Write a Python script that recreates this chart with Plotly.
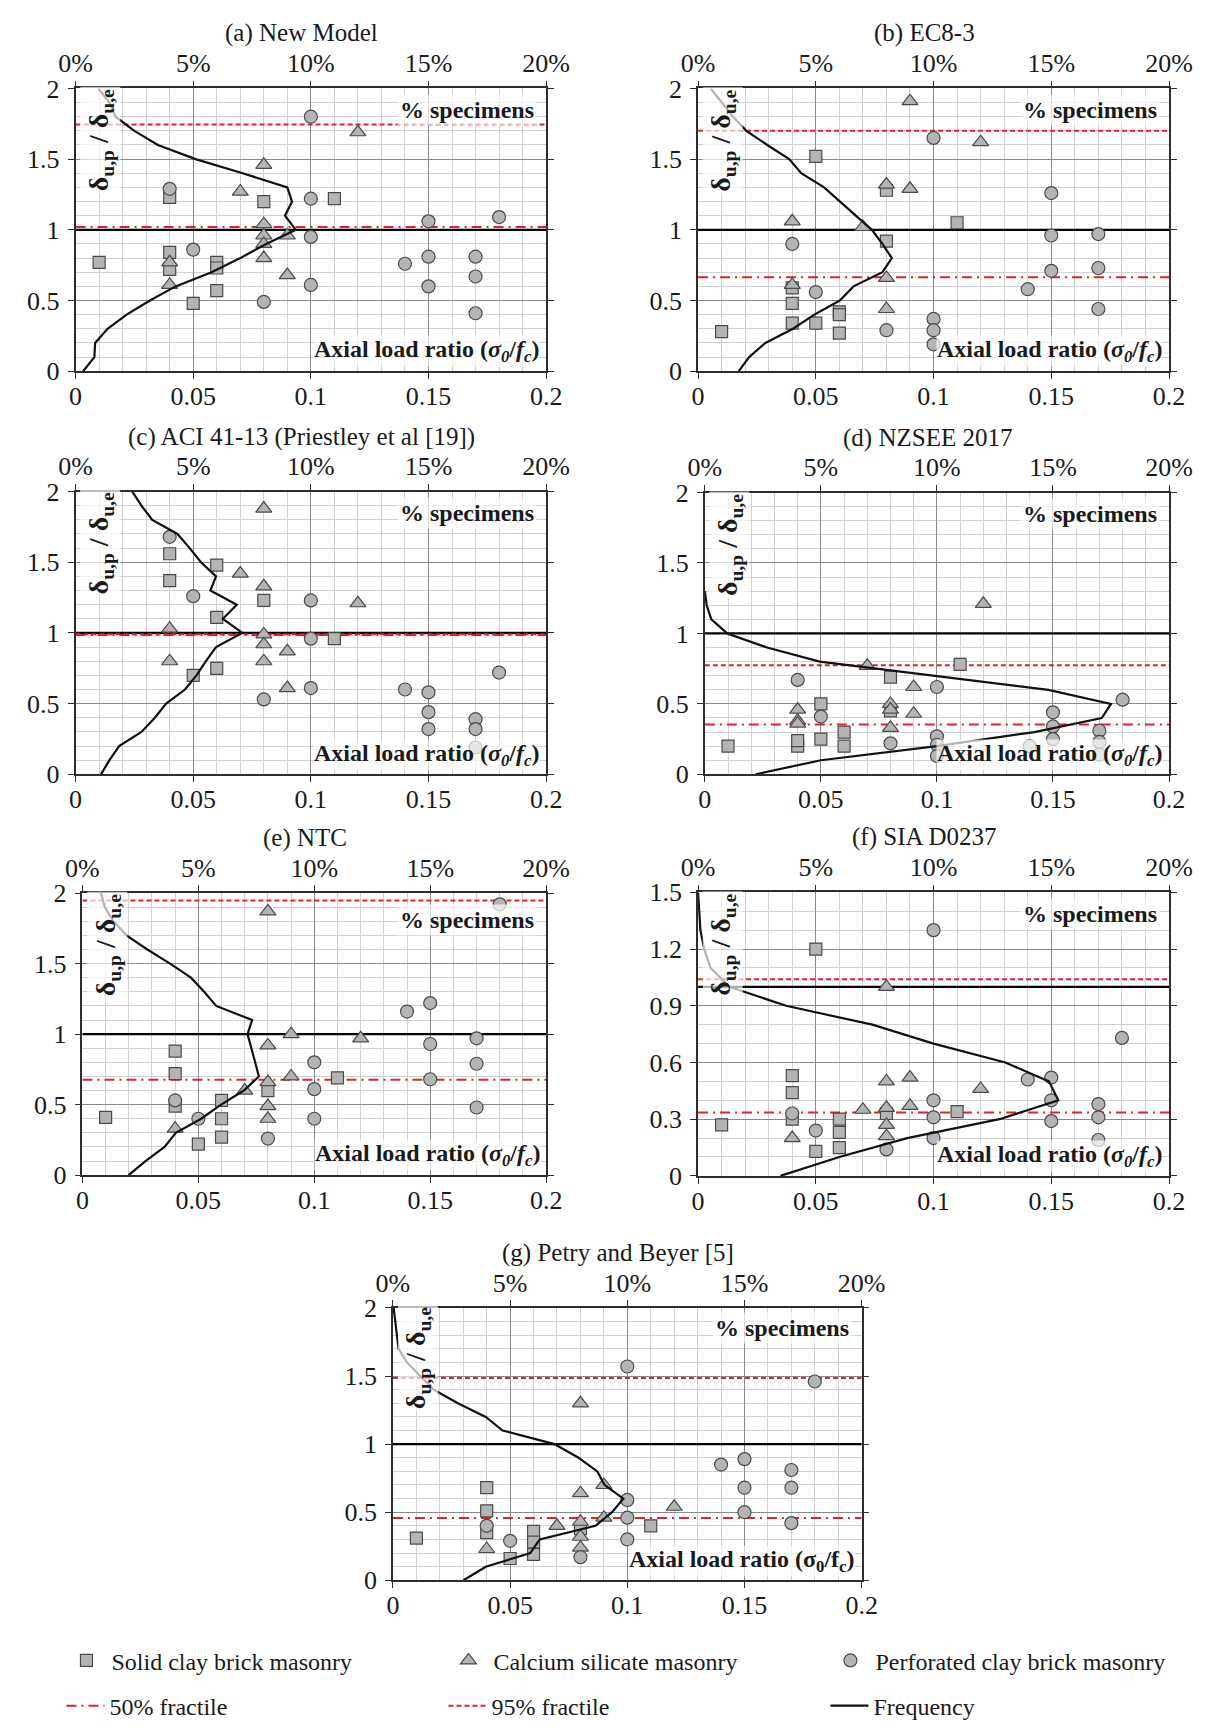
import plotly.graph_objects as go

W, H = 1222, 1731
SERIF = "Liberation Serif, Times New Roman, serif"

# ratio levels at which the frequency profiles are evaluated
LEVELS_2 = [0.0, 0.1, 0.2, 0.3, 0.4, 0.5, 0.6, 0.7, 0.8, 0.9, 1.0,
            1.1, 1.2, 1.3, 1.4, 1.5, 1.6, 1.7, 1.8, 1.9, 2.0]
LEVELS_D = [0.0, 0.1, 0.2, 0.3, 0.4, 0.5, 0.6, 0.7, 0.8, 0.9, 1.0, 1.1, 1.2, 1.3]
LEVELS_F = [0.0, 0.1, 0.2, 0.3, 0.4, 0.5, 0.6, 0.7, 0.8, 0.9, 1.0,
            1.1, 1.2, 1.3, 1.4, 1.5]
REF_RATIO = 1.0
X_LIMITS = [0.0, 0.2]

TITLES = ["(a) New Model", "(b) EC8-3", "(c) ACI 41-13 (Priestley et al [19])",
          "(d) NZSEE 2017", "(e) NTC", "(f) SIA D0237", "(g) Petry and Beyer [5]"]

# ---------------- (a) New Model
A_SOLID_X = [0.01, 0.04, 0.04, 0.04, 0.05, 0.06, 0.06, 0.06, 0.08, 0.11]
A_SOLID_Y = [0.77, 1.23, 0.84, 0.72, 0.48, 0.77, 0.73, 0.57, 1.20, 1.22]
A_CASI_X = [0.04, 0.04, 0.07, 0.08, 0.08, 0.08, 0.08, 0.08, 0.09, 0.09, 0.12]
A_CASI_Y = [0.77, 0.61, 1.27, 1.46, 1.04, 0.96, 0.90, 0.80, 0.96, 0.68, 1.69]
A_PERF_X = [0.04, 0.05, 0.08, 0.10, 0.10, 0.10, 0.10, 0.14, 0.15, 0.15, 0.15, 0.17, 0.17, 0.17, 0.18]
A_PERF_Y = [1.29, 0.86, 0.49, 1.80, 1.22, 0.95, 0.61, 0.76, 1.06, 0.81, 0.60, 0.81, 0.67, 0.41, 1.09]
A_FREQ = [0.32, 0.80, 0.83, 1.36, 2.17, 3.16, 4.25, 5.78, 7.00, 8.10, 9.36,
          8.90, 9.20, 9.00, 7.10, 5.10, 3.50, 2.50, 1.70, 1.44, 0.96]
A_P50 = 1.02
A_P95 = 1.745

# ---------------- (b) EC8-3
B_SOLID_X = [0.01, 0.04, 0.04, 0.04, 0.05, 0.05, 0.06, 0.06, 0.06, 0.08, 0.08, 0.11]
B_SOLID_Y = [0.28, 0.59, 0.48, 0.34, 1.52, 0.34, 0.42, 0.40, 0.27, 1.28, 0.92, 1.05]
B_CASI_X = [0.04, 0.04, 0.07, 0.08, 0.08, 0.08, 0.09, 0.09, 0.12]
B_CASI_Y = [1.06, 0.61, 1.02, 1.32, 0.66, 0.44, 1.91, 1.29, 1.62]
B_PERF_X = [0.04, 0.05, 0.08, 0.10, 0.10, 0.10, 0.10, 0.14, 0.15, 0.15, 0.15, 0.17, 0.17, 0.17]
B_PERF_Y = [0.90, 0.56, 0.29, 1.65, 0.37, 0.29, 0.19, 0.58, 1.26, 0.96, 0.71, 0.97, 0.73, 0.44]
B_FREQ = [1.73, 2.17, 2.86, 4.03, 4.94, 6.02, 6.60, 7.83, 8.23, 7.83, 7.38,
          6.71, 6.00, 5.35, 4.38, 3.87, 2.94, 2.05, 1.49, 1.00, 0.53]
B_P50 = 0.665
B_P95 = 1.70

# ---------------- (c) ACI 41-13
C_SOLID_X = [0.04, 0.04, 0.05, 0.06, 0.06, 0.06, 0.08, 0.11]
C_SOLID_Y = [1.56, 1.37, 0.70, 1.48, 1.11, 0.75, 1.23, 0.96]
C_CASI_X = [0.04, 0.04, 0.07, 0.08, 0.08, 0.08, 0.08, 0.08, 0.09, 0.09, 0.12]
C_CASI_Y = [1.03, 0.80, 1.42, 1.88, 1.33, 0.99, 0.92, 0.80, 0.87, 0.61, 1.21]
C_PERF_X = [0.04, 0.05, 0.08, 0.10, 0.10, 0.10, 0.14, 0.15, 0.15, 0.15, 0.17, 0.17, 0.17, 0.18]
C_PERF_Y = [1.68, 1.26, 0.53, 1.23, 0.96, 0.61, 0.60, 0.58, 0.44, 0.32, 0.39, 0.32, 0.19, 0.72]
C_FREQ = [1.08, 1.44, 1.85, 2.80, 3.37, 3.85, 4.65, 5.14, 5.54, 5.97, 7.09,
          6.26, 6.85, 5.73, 5.97, 5.33, 4.85, 4.33, 3.26, 2.80, 2.41]
C_P50 = 0.985
C_P95 = 0.99

# ---------------- (d) NZSEE 2017
D_SOLID_X = [0.01, 0.04, 0.04, 0.05, 0.05, 0.06, 0.06, 0.08, 0.08, 0.11]
D_SOLID_Y = [0.20, 0.20, 0.24, 0.50, 0.25, 0.30, 0.20, 0.69, 0.45, 0.78]
D_CASI_X = [0.04, 0.04, 0.04, 0.07, 0.08, 0.08, 0.08, 0.09, 0.09, 0.12]
D_CASI_Y = [0.46, 0.38, 0.36, 0.77, 0.50, 0.46, 0.33, 0.62, 0.43, 1.21]
D_PERF_X = [0.04, 0.05, 0.08, 0.10, 0.10, 0.10, 0.10, 0.14, 0.15, 0.15, 0.15, 0.17, 0.17, 0.17, 0.18]
D_PERF_Y = [0.67, 0.41, 0.22, 0.62, 0.27, 0.21, 0.13, 0.20, 0.44, 0.34, 0.25, 0.31, 0.23, 0.14, 0.53]
D_FREQ = [2.19, 5.00, 10.00, 14.20, 17.10, 17.50, 14.80, 9.80, 4.95, 2.68, 0.97, 0.28, 0.08, 0.00]
D_P50 = 0.353
D_P95 = 0.775

# ---------------- (e) NTC
E_SOLID_X = [0.01, 0.04, 0.04, 0.04, 0.05, 0.06, 0.06, 0.06, 0.08, 0.11]
E_SOLID_Y = [0.41, 0.88, 0.72, 0.49, 0.22, 0.53, 0.40, 0.27, 0.60, 0.69]
E_CASI_X = [0.04, 0.07, 0.08, 0.08, 0.08, 0.08, 0.08, 0.09, 0.09, 0.12]
E_CASI_Y = [0.33, 0.60, 1.87, 0.92, 0.66, 0.49, 0.40, 1.00, 0.70, 0.97]
E_PERF_X = [0.04, 0.05, 0.08, 0.10, 0.10, 0.10, 0.14, 0.15, 0.15, 0.15, 0.17, 0.17, 0.17, 0.18]
E_PERF_Y = [0.53, 0.40, 0.26, 0.80, 0.61, 0.40, 1.16, 1.22, 0.93, 0.68, 0.97, 0.79, 0.48, 1.92]
E_FREQ = [1.99, 2.72, 3.54, 4.03, 5.12, 5.98, 6.96, 7.61, 7.45, 7.29, 7.12,
          7.32, 5.77, 5.25, 4.68, 3.78, 2.80, 1.90, 1.34, 0.96, 0.80]
E_P50 = 0.676
E_P95 = 1.947

# ---------------- (f) SIA D0237
F_SOLID_X = [0.01, 0.04, 0.04, 0.04, 0.05, 0.05, 0.06, 0.06, 0.06, 0.08, 0.11]
F_SOLID_Y = [0.27, 0.53, 0.44, 0.30, 1.20, 0.13, 0.30, 0.23, 0.15, 0.33, 0.34]
F_CASI_X = [0.04, 0.07, 0.08, 0.08, 0.08, 0.08, 0.08, 0.09, 0.09, 0.12]
F_CASI_Y = [0.20, 0.35, 1.00, 0.50, 0.36, 0.27, 0.21, 0.52, 0.37, 0.46]
F_PERF_X = [0.04, 0.05, 0.08, 0.10, 0.10, 0.10, 0.10, 0.14, 0.15, 0.15, 0.15, 0.17, 0.17, 0.17, 0.18]
F_PERF_Y = [0.33, 0.24, 0.14, 1.30, 0.40, 0.31, 0.20, 0.51, 0.52, 0.40, 0.29, 0.38, 0.31, 0.19, 0.73]
F_FREQ = [3.50, 6.00, 8.88, 12.80, 15.30, 14.90, 13.05, 10.00, 7.40, 3.74, 1.33,
          0.53, 0.26, 0.10, 0.05, 0.00]
F_P50 = 0.335
F_P95 = 1.04

# ---------------- (g) Petry and Beyer
G_SOLID_X = [0.01, 0.04, 0.04, 0.04, 0.05, 0.06, 0.06, 0.06, 0.08, 0.11]
G_SOLID_Y = [0.31, 0.68, 0.51, 0.35, 0.16, 0.36, 0.28, 0.19, 0.38, 0.40]
G_CASI_X = [0.04, 0.07, 0.08, 0.08, 0.08, 0.08, 0.08, 0.09, 0.09, 0.12]
G_CASI_Y = [0.23, 0.40, 1.30, 0.64, 0.43, 0.32, 0.24, 0.70, 0.46, 0.54]
G_PERF_X = [0.04, 0.05, 0.08, 0.10, 0.10, 0.10, 0.10, 0.14, 0.15, 0.15, 0.15, 0.17, 0.17, 0.17, 0.18]
G_PERF_Y = [0.40, 0.29, 0.17, 1.57, 0.59, 0.46, 0.30, 0.85, 0.89, 0.68, 0.50, 0.81, 0.68, 0.42, 1.46]
G_FREQ = [3.01, 3.96, 5.86, 6.26, 8.64, 9.35, 9.83, 9.03, 8.72, 7.92, 6.89,
          4.68, 3.96, 2.77, 1.74, 1.19, 0.60, 0.24, 0.16, 0.11, 0.03]
G_P50 = 0.457
G_P95 = 1.486

PANELS = [
    dict(solid=(A_SOLID_X, A_SOLID_Y), casi=(A_CASI_X, A_CASI_Y), perf=(A_PERF_X, A_PERF_Y),
         freq=A_FREQ, levels=LEVELS_2, p50=A_P50, p95=A_P95),
    dict(solid=(B_SOLID_X, B_SOLID_Y), casi=(B_CASI_X, B_CASI_Y), perf=(B_PERF_X, B_PERF_Y),
         freq=B_FREQ, levels=LEVELS_2, p50=B_P50, p95=B_P95),
    dict(solid=(C_SOLID_X, C_SOLID_Y), casi=(C_CASI_X, C_CASI_Y), perf=(C_PERF_X, C_PERF_Y),
         freq=C_FREQ, levels=LEVELS_2, p50=C_P50, p95=C_P95),
    dict(solid=(D_SOLID_X, D_SOLID_Y), casi=(D_CASI_X, D_CASI_Y), perf=(D_PERF_X, D_PERF_Y),
         freq=D_FREQ, levels=LEVELS_D, p50=D_P50, p95=D_P95),
    dict(solid=(E_SOLID_X, E_SOLID_Y), casi=(E_CASI_X, E_CASI_Y), perf=(E_PERF_X, E_PERF_Y),
         freq=E_FREQ, levels=LEVELS_2, p50=E_P50, p95=E_P95),
    dict(solid=(F_SOLID_X, F_SOLID_Y), casi=(F_CASI_X, F_CASI_Y), perf=(F_PERF_X, F_PERF_Y),
         freq=F_FREQ, levels=LEVELS_F, p50=F_P50, p95=F_P95),
    dict(solid=(G_SOLID_X, G_SOLID_Y), casi=(G_CASI_X, G_CASI_Y), perf=(G_PERF_X, G_PERF_Y),
         freq=G_FREQ, levels=LEVELS_2, p50=G_P50, p95=G_P95),
]

# plot-area boxes in page pixels: left, right, top, bottom
BOXES = [
    (60.6, 547.5, 75.7, 363.3),
    (704.7, 1192.0, 75.7, 363.3),
    (60.6, 547.5, 485.7, 773.3),
    (711.7, 1192.0, 486.7, 773.3),
    (67.7, 547.5, 894.0, 1181.0),
    (704.7, 1192.0, 893.3, 1181.7),
    (389.0, 874.0, 1316.0, 1593.0),
]

FILL = "#b4b4b4"
EDGE = "#4a4a4a"
RED = "#e0232b"
MAJOR = "#8a8a8a"
MINOR = "#d0d0d0"
FRAME = "#2e2e2e"
TXT = "#1a1a1a"
BOX_BG = "rgba(255,255,255,0.68)"


def axis_id(letter, n):
    """Trace-style axis id: 'x', 'x2', ..."""
    return letter if n == 1 else f"{letter}{n}"


def layout_key(letter, n):
    return f"{letter}axis" if n == 1 else f"{letter}axis{n}"


fig = go.Figure()
layout = dict(
    width=W, height=H, margin=dict(l=0, r=0, t=0, b=0), autosize=False,
    paper_bgcolor="white", plot_bgcolor="white", hovermode=False,
    font=dict(family=SERIF, color=TXT),
)
annotations = []

for i, p in enumerate(PANELS):
    nb, nt, ny = 2 * i + 1, 2 * i + 2, i + 1
    xb, xt, ya = axis_id("x", nb), axis_id("x", nt), axis_id("y", ny)
    first = i == 0
    common = dict(xaxis=xb, yaxis=ya, hoverinfo="skip")

    fig.add_trace(go.Scatter(x=X_LIMITS, y=[REF_RATIO, REF_RATIO], mode="lines",
                             line=dict(color="black", width=2.2), showlegend=False, **common))
    fig.add_trace(go.Scatter(x=X_LIMITS, y=[p["p50"], p["p50"]], mode="lines",
                             line=dict(color=RED, width=2, dash="10px,5px,2px,5px"),
                             name="50% fractile", legend="legend2", showlegend=first, **common))
    fig.add_trace(go.Scatter(x=X_LIMITS, y=[p["p95"], p["p95"]], mode="lines",
                             line=dict(color=RED, width=2, dash="5px,3px"),
                             name="95% fractile", legend="legend2", showlegend=first, **common))

    for key, sym, size, label in [("solid", "square", 12, "Solid clay brick masonry"),
                                  ("casi", "triangle-up", 14, "Calcium silicate masonry"),
                                  ("perf", "circle", 13, "Perforated clay brick masonry")]:
        xs, ys = p[key]
        fig.add_trace(go.Scatter(x=xs, y=ys, mode="markers",
                                 marker=dict(symbol=sym, size=size, color=FILL,
                                             line=dict(color=EDGE, width=1.2)),
                                 name=label, legend="legend", showlegend=first, **common))

    fig.add_trace(go.Scatter(x=p["freq"], y=p["levels"], mode="lines",
                             line=dict(color="#111111", width=2.2),
                             name="Frequency", legend="legend2", showlegend=first,
                             xaxis=xt, yaxis=ya, hoverinfo="skip"))

    left, right, top, bottom = BOXES[i]
    dom_x = [left / W, right / W]
    dom_y = [1 - bottom / H, 1 - top / H]
    yr, ydt = ([0, 1.5], 0.3) if i == 5 else ([0, 2], 0.5)
    tickfont = dict(family=SERIF, size=26, color=TXT)

    layout[layout_key("x", nb)] = dict(
        domain=dom_x, anchor=ya, range=[0, 0.2], tick0=0, dtick=0.05,
        showgrid=True, gridcolor=MAJOR, gridwidth=1,
        minor=dict(dtick=0.01, showgrid=True, gridcolor=MINOR, gridwidth=1),
        showline=True, linecolor=FRAME, linewidth=1.6,
        ticks="outside", ticklen=6, tickcolor=FRAME, tickfont=tickfont,
        ticklabelstandoff=-5, zeroline=False, fixedrange=True,
    )
    layout[layout_key("x", nt)] = dict(
        overlaying=xb, side="top", anchor=ya, range=[0, 20], tick0=0, dtick=5,
        ticksuffix="%", showgrid=False, showline=True, linecolor=FRAME, linewidth=1.6,
        ticks="outside", ticklen=6, tickcolor=FRAME, tickfont=tickfont,
        ticklabelstandoff=-2, zeroline=False, fixedrange=True,
    )
    layout[layout_key("y", ny)] = dict(
        domain=dom_y, anchor=xb, range=yr, tick0=0, dtick=ydt,
        showgrid=True, gridcolor=MAJOR, gridwidth=1,
        minor=dict(dtick=0.1, showgrid=True, gridcolor=MINOR, gridwidth=1),
        showline=True, linecolor=FRAME, linewidth=1.6, mirror="ticks",
        ticks="outside", ticklen=6, tickcolor=FRAME, tickfont=tickfont,
        ticklabelstandoff=3, zeroline=False, fixedrange=True,
    )

    xd, yd = f"{xb} domain", f"{ya} domain"
    annotations.append(dict(text=TITLES[i], xref=xd, yref=yd, x=0.48, y=1, yshift=55,
                            xanchor="center", yanchor="middle", showarrow=False,
                            font=dict(family=SERIF, size=25, color=TXT)))
    annotations.append(dict(text="<b>% specimens</b>", xref=xd, yref=yd, x=0.98,
                            y=0.905 if i == 4 else 0.925,
                            xanchor="right", yanchor="middle", showarrow=False,
                            bgcolor=BOX_BG, borderpad=2,
                            font=dict(family=SERIF, size=24, color=TXT)))
    if i == 6:
        axial = "<b>Axial load ratio (σ<sub>0</sub>/f<sub>c</sub>)</b>"
    else:
        axial = "<b>Axial load ratio (<i>σ<sub>0</sub></i>/<i>f<sub>c</sub></i>)</b>"
    annotations.append(dict(text=axial, xref=xd, yref=yd, x=0.988, y=0.07,
                            xanchor="right", yanchor="middle", showarrow=False,
                            bgcolor=BOX_BG, borderpad=0,
                            font=dict(family=SERIF, size=24, color=TXT)))
    annotations.append(dict(text="<b>δ<sub>u,p</sub> / δ<sub>u,e</sub></b>", textangle=-90,
                            xref=xd, yref=yd, x=0.053, y=0.815,
                            xanchor="center", yanchor="middle", showarrow=False,
                            bgcolor=BOX_BG, borderpad=2,
                            font=dict(family=SERIF, size=28, color=TXT)))

legend_font = dict(family=SERIF, size=24, color=TXT)
layout["legend"] = dict(orientation="h", x=46 / W, xanchor="left", y=1 - 1652 / H, yanchor="top",
                        entrywidth=327, entrywidthmode="pixels", itemwidth=40,
                        bgcolor="rgba(0,0,0,0)", font=legend_font, traceorder="normal")
layout["legend2"] = dict(orientation="h", x=46 / W, xanchor="left", y=1 - 1698 / H, yanchor="top",
                         entrywidth=329, entrywidthmode="pixels", itemwidth=38,
                         bgcolor="rgba(0,0,0,0)", font=legend_font, traceorder="normal")
layout["annotations"] = annotations
fig.update_layout(**layout)

fig.write_html("out.html")
